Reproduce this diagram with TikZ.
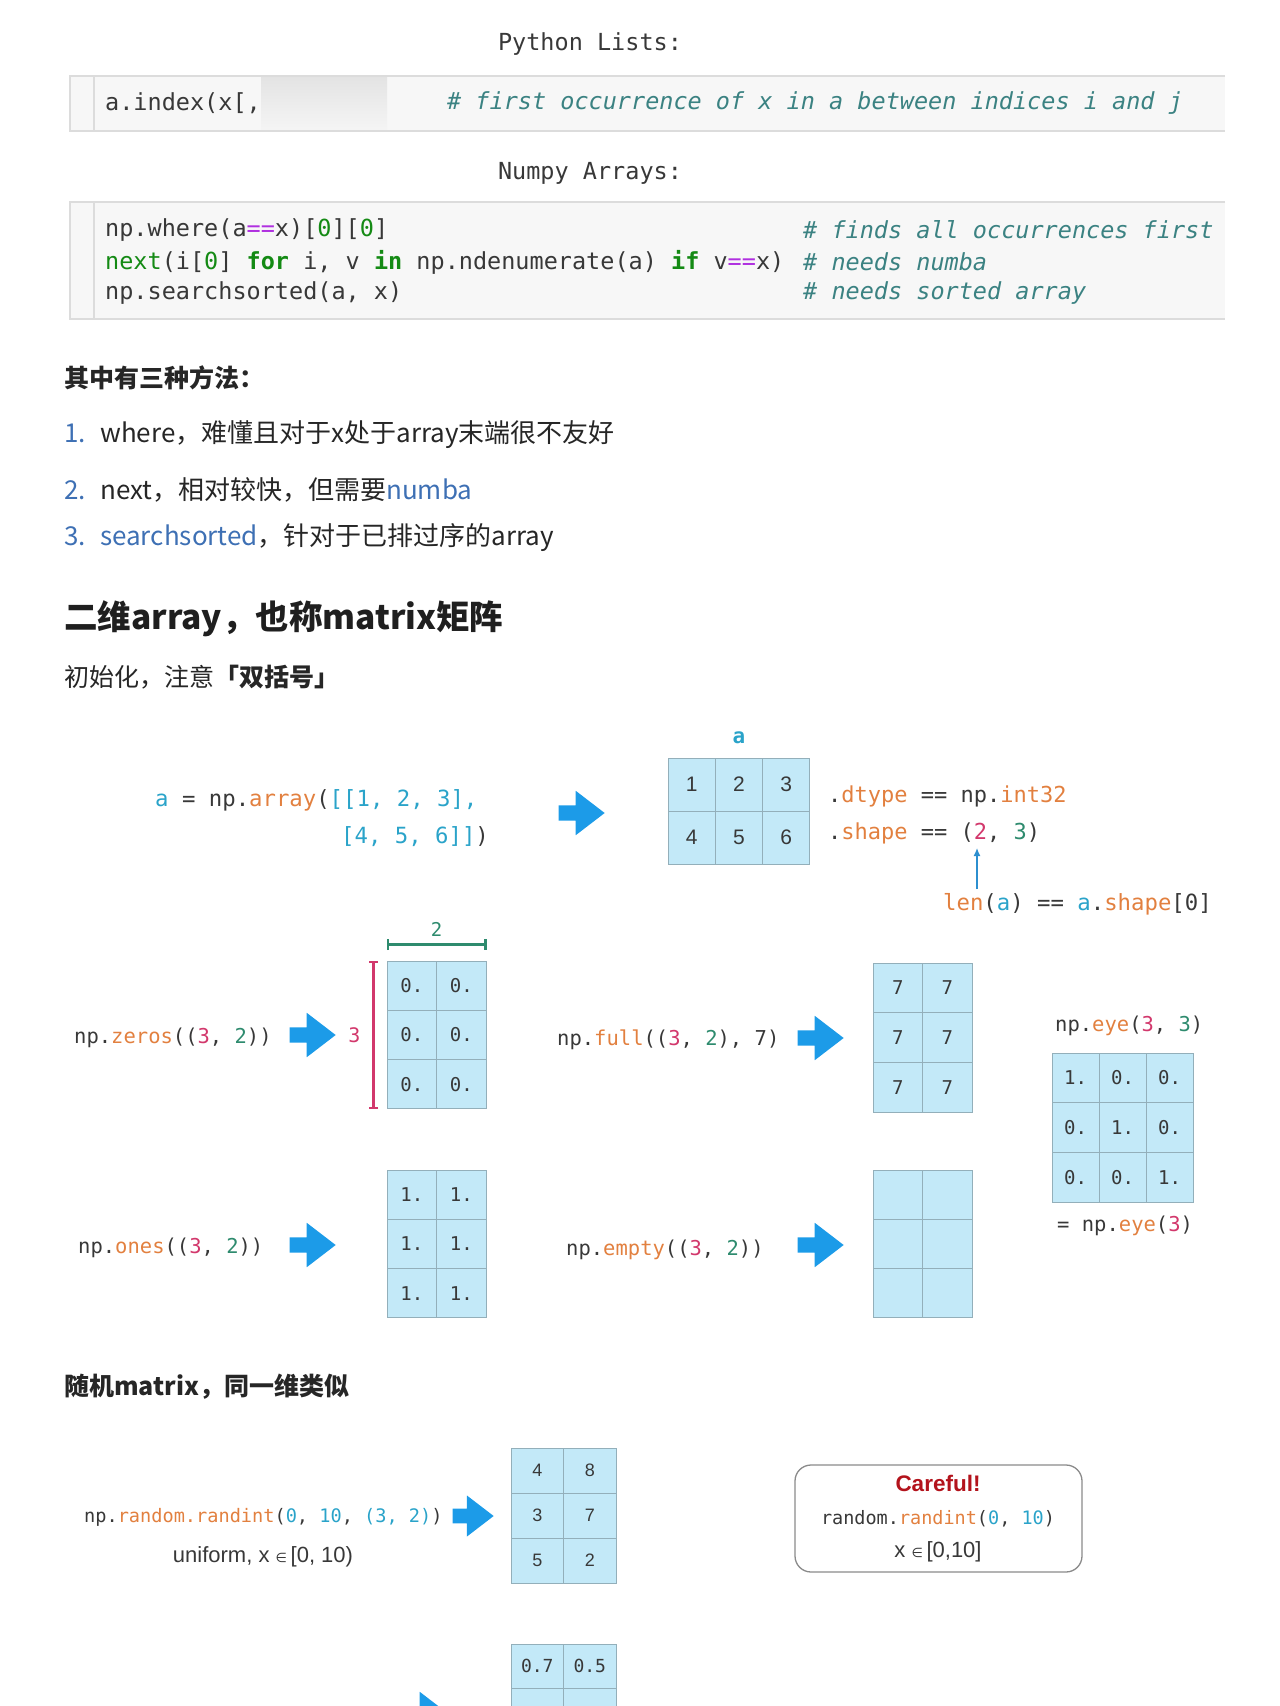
\documentclass[tikz,border=0pt]{standalone}
\usepackage{fontspec}
\setmainfont{Noto Sans CJK SC}
\newfontfamily\mono{DejaVu Sans Mono}
\newfontfamily\arl{Liberation Sans}
\newfontfamily\dvs{DejaVu Sans}
\usetikzlibrary{positioning,shapes.arrows,arrows.meta}

\definecolor{codebg}{HTML}{F7F7F7}
\definecolor{codeframe}{HTML}{DCDCDC}
\definecolor{cmtc}{HTML}{3B8282}
\definecolor{kwgreen}{HTML}{148A14}
\definecolor{oppurple}{HTML}{B030E0}
\definecolor{lnblue}{HTML}{3E70B4}
\definecolor{ink}{HTML}{383838}
\definecolor{orng}{HTML}{E2803F}
\definecolor{cyn}{HTML}{2AA3C9}
\definecolor{mgt}{HTML}{D2386C}
\definecolor{grn}{HTML}{2E8B6E}
\definecolor{arrblue}{HTML}{1C9BE8}
\definecolor{ptrblue}{HTML}{2C8FCF}
\definecolor{cellfill}{HTML}{C3E9F8}
\definecolor{cellline}{HTML}{93AFBA}
\definecolor{warnred}{HTML}{B3131C}
\definecolor{boxgray}{HTML}{8A8A8A}

\newcommand\hlo[1]{\textcolor{orng}{#1}}
\newcommand\hlc[1]{\textcolor{cyn}{#1}}
\newcommand\hlm[1]{\textcolor{mgt}{#1}}
\newcommand\hlg[1]{\textcolor{grn}{#1}}
\newcommand\kw[1]{\textcolor{kwgreen}{#1}}
\newcommand\kwb[1]{\textcolor{kwgreen}{\bfseries #1}}
\newcommand\op[1]{\textcolor{oppurple}{#1}}

\tikzset{
  code/.style={font=\mono\fontsize{23.5}{28}\selectfont, text=ink, anchor=west, inner sep=0pt},
  cmt/.style={code, font=\mono\itshape\fontsize{23.5}{28}\selectfont, text=cmtc},
  txt/.style={font=\fontsize{26}{31}\selectfont, text=black!85, anchor=west, inner sep=0pt},
  lbl/.style={font=\mono\fontsize{20.5}{25}\selectfont, text=ink, anchor=west, inner sep=0pt},
  cell/.style={draw=cellline, fill=cellfill, inner sep=0pt, line width=1pt, text=ink},
  mcell/.style={font=\mono\fontsize{19}{23}\selectfont},
  scell/.style={font=\arl\fontsize{21}{25}\selectfont},
  blk/.style={single arrow, fill=arrblue, draw=none, inner xsep=0pt, inner ysep=7.5pt,
    minimum height=46pt, minimum width=44pt, single arrow head extend=14.5pt,
    single arrow tip angle=75, anchor=tip},
  ptr/.style={draw=ptrblue, line width=1.3pt, -{Latex[length=8pt,width=7pt]}},
  dimg/.style={draw=grn, line width=2.4pt, {Bar[width=11pt]}-{Bar[width=11pt]}},
  dimm/.style={draw=mgt, line width=2.4pt, {Bar[width=9pt]}-{Bar[width=9pt]}}
}

\begin{document}
\begin{tikzpicture}[x=1pt,y=-1pt]
\useasboundingbox (0,0) rectangle (1280,1706);
\clip (0,0) rectangle (1280,1706);

% code cells
\node[font=\mono\fontsize{23.5}{28}\selectfont, text=ink] (pyl) at (590,44) {Python Lists:};
\fill[codebg] (70,76) rectangle (1225,131);
\shade[top color=black!11, bottom color=black!4] (261,76) rectangle (387,130);
\draw[codeframe, line width=1.2pt] (1225,76) -- (70,76) -- (70,131) -- (1225,131) (94,76) -- (94,131);
\node[code] (idx) at (105,103) {a.index(x[,};
\node[cmt] (idxc) at (447,103) {\# first occurrence of x in a between indices i and j};

\node[font=\mono\fontsize{23.5}{28}\selectfont, text=ink] (npa) at (590,173) {Numpy Arrays:};
\fill[codebg] (70,202) rectangle (1225,319);
\draw[codeframe, line width=1.2pt] (1225,202) -- (70,202) -- (70,319) -- (1225,319) (94,202) -- (94,319);
\node[code] (c1) at (105,230) {np.where(a\op{==}x)[\kw{0}][\kw{0}]};
\node[code] (c2) at (105,262) {\kw{next}(i[\kw{0}] \kwb{for} i, v \kwb{in} np.ndenumerate(a) \kwb{if} v\op{==}x)};
\node[code] (c3) at (105,293) {np.searchsorted(a, x)};
\node[cmt] (m1) at (803,230) {\# finds all occurrences first};
\node[cmt] (m2) at (803,262) {\# needs numba};
\node[cmt] (m3) at (803,293) {\# needs sorted array};

% text
\node[txt, font=\bfseries\fontsize{25}{30}\selectfont] (fa) at (64,378) {其中有三种方法：};
\node[txt] (l1) at (64,435) {\makebox[36pt][l]{\textcolor{lnblue}{1.}}where，难懂且对于x处于array末端很不友好};
\node[txt] (l2) at (64,490) {\makebox[36pt][l]{\textcolor{lnblue}{2.}}next，相对较快，但需要\textcolor{lnblue}{numba}};
\node[txt] (l3) at (64,538) {\makebox[36pt][l]{\textcolor{lnblue}{3.}}\textcolor{lnblue}{searchsorted}，针对于已排过序的array};
\node[txt, font=\bfseries\fontsize{33.5}{40}\selectfont, text=black!88] (h2) at (64,619) {二维array，也称matrix矩阵};
\node[txt, font=\fontsize{25}{30}\selectfont] (ini) at (64,677) {初始化，注意\textbf{「双括号」}};

% np.array
\node[text=cyn, font=\mono\bfseries\fontsize{21}{26}\selectfont, inner sep=0pt] (alab) at (739,738) {a};
\foreach \row [count=\r] in {{1,2,3},{4,5,6}}
  \foreach \v [count=\c] in \row
    \node[cell, scell, minimum width=47.3pt, minimum height=53pt] (a\r\c) at ({668+(\c-0.5)*47.3},{758+(\r-0.5)*53}) {\v};
\node[lbl, font=\mono\fontsize{22.3}{27}\selectfont] (arr1) at (155,800) {\hlc{a} = np.\hlo{array}(\hlc{[[1, 2, 3],}};
\node[lbl, font=\mono\fontsize{22.3}{27}\selectfont] (arr2) at (341,837) {\hlc{[4, 5, 6]]})};
\node[blk] (ar0) at (605,813) {};
\node[lbl, font=\mono\fontsize{22}{27}\selectfont] (dt) at (828,796) {.\hlo{dtype} == np.\hlo{int32}};
\node[lbl, font=\mono\fontsize{22}{27}\selectfont] (sh) at (828,833) {.\hlo{shape} == (\hlm{2}, \hlg{3})};
\node[lbl, font=\mono\fontsize{22.3}{27}\selectfont] (ln) at (943,904) {\hlo{len}(\hlc{a}) == \hlc{a}.\hlo{shape}[0]};
\coordinate (lnup) at (977,889);
\coordinate (shdn) at (977,848);
\draw[ptr] (lnup) -- (shdn);

% zeros
\foreach \row [count=\r] in {{0.,0.},{0.,0.},{0.,0.}}
  \foreach \v [count=\c] in \row
    \node[cell, mcell, minimum width=49.5pt, minimum height=49.3pt] (z\r\c) at ({387+(\c-0.5)*49.5},{961+(\r-0.5)*49.3}) {\v};
\draw[dimg] ([yshift=16pt]z11.north west) -- ([yshift=16pt]z12.north east)
  node[midway, above=7pt, inner sep=0pt, text=grn, font=\mono\fontsize{19}{23}\selectfont] (two) {2};
\draw[dimm] ([xshift=-13pt]z11.north west) -- ([xshift=-13pt]z31.south west)
  node[midway, left=12pt, inner sep=0pt, text=mgt, font=\mono\fontsize{20}{24}\selectfont] (three) {3};
\node[lbl] (zr) at (74,1038) {np.\hlo{zeros}((\hlm{3}, \hlg{2}))};
\node[blk] (ar1) at (336,1035) {};

% full
\foreach \row [count=\r] in {{7,7},{7,7},{7,7}}
  \foreach \v [count=\c] in \row
    \node[cell, mcell, minimum width=49.5pt, minimum height=49.7pt] (f\r\c) at ({873+(\c-0.5)*49.5},{963+(\r-0.5)*49.7}) {\v};
\node[lbl] (fl) at (557,1040) {np.\hlo{full}((\hlm{3}, \hlg{2}), 7)};
\node[blk] (ar2) at (844,1038) {};

% eye
\foreach \row [count=\r] in {{1.,0.,0.},{0.,1.,0.},{0.,0.,1.}}
  \foreach \v [count=\c] in \row
    \node[cell, mcell, minimum width=47pt, minimum height=49.7pt] (e\r\c) at ({1052+(\c-0.5)*47},{1053+(\r-0.5)*49.7}) {\v};
\node[lbl] (ey) at (1055,1026) {np.\hlo{eye}(\hlm{3}, \hlg{3})};
\node[lbl] (ey2) at (1057,1226) {= np.\hlo{eye}(\hlm{3})};

% ones
\foreach \row [count=\r] in {{1.,1.},{1.,1.},{1.,1.}}
  \foreach \v [count=\c] in \row
    \node[cell, mcell, minimum width=49.5pt, minimum height=49.3pt] (o\r\c) at ({387+(\c-0.5)*49.5},{1170+(\r-0.5)*49.3}) {\v};
\node[lbl] (on) at (78,1248) {np.\hlo{ones}((\hlm{3}, \hlg{2}))};
\node[blk] (ar3) at (336,1245) {};

% empty
\foreach \r in {1,2,3}
  \foreach \c in {1,2}
    \node[cell, minimum width=49.5pt, minimum height=49.3pt] (m\r\c) at ({873+(\c-0.5)*49.5},{1170+(\r-0.5)*49.3}) {};
\node[lbl] (em) at (566,1250) {np.\hlo{empty}((\hlm{3}, \hlg{2}))};
\node[blk] (ar4) at (844,1245) {};

% random
\node[txt, font=\bfseries\fontsize{25}{30}\selectfont] (h4) at (64,1387) {随机matrix，同一维类似};
\foreach \row [count=\r] in {{4,8},{3,7},{5,2}}
  \foreach \v [count=\c] in \row
    \node[cell, font=\arl\fontsize{18}{22}\selectfont, minimum width=52.5pt, minimum height=45pt] (r\r\c) at ({511+(\c-0.5)*52.5},{1448+(\r-0.5)*45}) {\v};
\node[lbl, font=\mono\fontsize{18.6}{22}\selectfont] (ri) at (84,1517) {np.\hlo{random.randint}(\hlc{0}, \hlc{10}, \hlc{(3, 2)})};
\node[blk, minimum height=41pt, minimum width=41pt, single arrow head extend=13pt, inner ysep=7pt] (ar5) at (494,1516) {};
\node[font=\arl\fontsize{22}{26}\selectfont, text=ink, inner sep=0pt] (uni) at (263,1557) {uniform, x {\dvs\fontsize{13}{15}\selectfont ∈}\,[0, 10)};

\node[draw=boxgray, line width=1.3pt, rounded corners=16pt, minimum width=287pt, minimum height=107pt] (cbox) at (938.5,1518.5) {};
\node[font=\arl\bfseries\fontsize{22.5}{27}\selectfont, text=warnred, inner sep=0pt] (cf) at (938,1483) {Careful!};
\node[font=\mono\fontsize{18.5}{22}\selectfont, text=ink, inner sep=0pt] (cr) at (938,1519) {random.\hlo{randint}(\hlc{0}, \hlc{10})};
\node[font=\arl\fontsize{22}{26}\selectfont, text=ink, inner sep=0pt] (cx) at (938,1552) {x {\dvs\fontsize{13}{15}\selectfont ∈}\,[0,10]};

% cut off at the bottom
\foreach \v [count=\c] in {0.7,0.5}
  \node[cell, font=\mono\fontsize{18}{22}\selectfont, minimum width=52.5pt, minimum height=44pt] (u1\c) at ({511+(\c-0.5)*52.5},1666) {\v};
\foreach \c in {1,2}
  \node[cell, minimum width=52.5pt, minimum height=44pt] (u2\c) at ({511+(\c-0.5)*52.5},1710) {};
\node[blk] (ar6) at (449,1714) {};
\end{tikzpicture}
\end{document}
